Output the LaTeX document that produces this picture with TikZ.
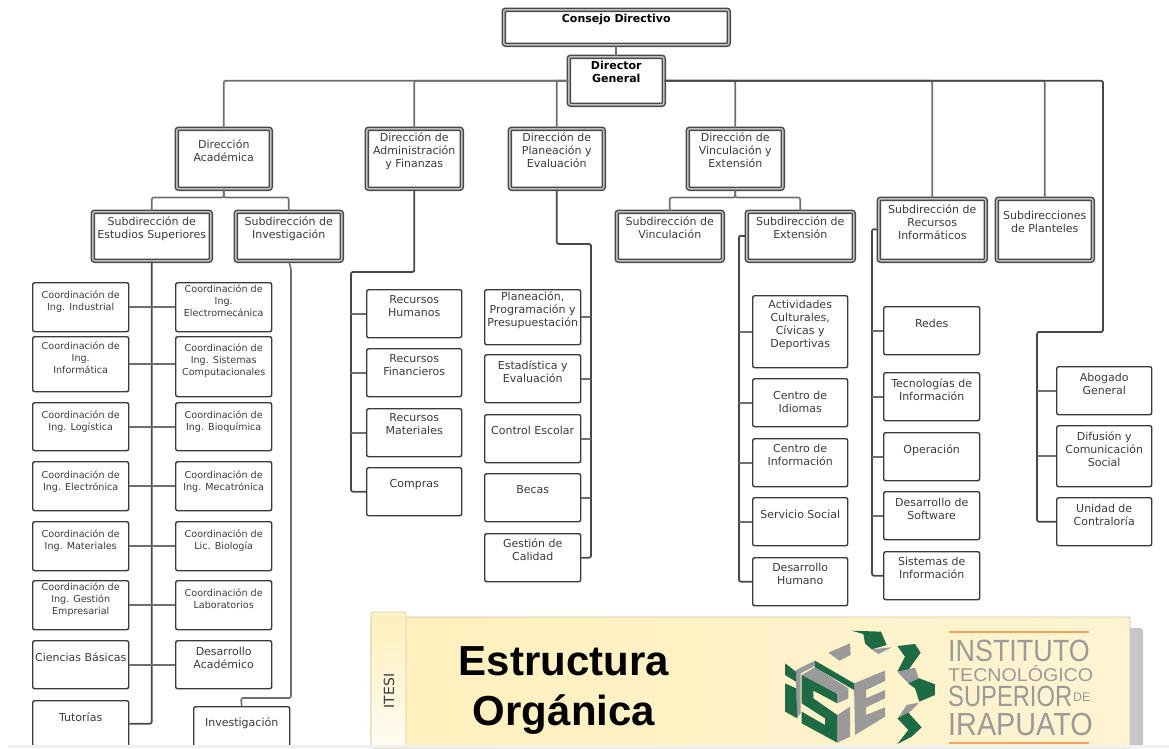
\documentclass[tikz,border=0pt]{standalone}
\usepackage{fontspec}
\setmainfont{DejaVu Sans}
\newfontfamily\titlefont{Liberation Sans}
\usepackage{tikz}
\definecolor{inkgray}{HTML}{3A3A3A}
\definecolor{linegray}{HTML}{6E6E6E}
\definecolor{railgray}{HTML}{484848}
\definecolor{logogreen}{HTML}{1C6B45}
\definecolor{logogray}{HTML}{9A9A9A}
\definecolor{logoorange}{HTML}{F5A45E}
\definecolor{bannerleft}{HTML}{FFF0BC}
\definecolor{bannerright}{HTML}{FFF4D2}
\tikzset{
  block/.style n args={3}{rectangle, anchor=north west, inner sep=0pt, text=inkgray,
    draw=inkgray, line width=1.4pt, rounded corners=2pt, font=\fontsize{11}{13}\selectfont,
    execute at begin node={\begin{minipage}[t][#2pt][t]{#1pt}\centering\vspace*{\dimexpr#3pt+1pt\relax}},
    execute at end node={\end{minipage}}},
  small/.style={font=\fontsize{9.6}{12}\selectfont},
  head/.style={draw=railgray, line width=1.5pt, double=black!25, double distance=1.5pt},
  boss/.style={head, text=black, font=\fontsize{11}{13}\selectfont\bfseries}
}
\tikzstyle{line} = [draw=linegray, line width=1.6pt, rounded corners=2pt]
\tikzstyle{rail} = [draw=railgray, line width=1.8pt, rounded corners=2pt]
\tikzstyle{brand} = [anchor=base west, inner sep=0pt, text=logogray]

\begin{document}
\begin{tikzpicture}[x=1pt, y=-1pt]
    \useasboundingbox (0,0) rectangle (1169,748);
    \node [block={225}{35}{3}, boss] (consejo) at (503,9) {Consejo Directivo};
    \node [block={95}{48}{3}, boss] (director) at (568,56) {Director\\General};

    \node [block={94}{60}{10}, head] (dacad) at (176,128) {Dirección\\Académica};
    \node [block={95}{60}{3}, head] (dadmin) at (366,128) {Dirección de\\Administración\\y Finanzas};
    \node [block={94}{60}{3}, head] (dplan) at (509,128) {Dirección de\\Planeación y\\Evaluación};
    \node [block={95}{60}{3}, head] (dvinc) at (687,128) {Dirección de\\Vinculación y\\Extensión};

    \node [block={118}{49}{4}, head] (subest) at (92,211) {Subdirección de\\Estudios Superiores};
    \node [block={106}{49}{4}, head] (subinv) at (235,211) {Subdirección de\\Investigación};
    \node [block={106}{49}{4}, head] (subvinc) at (616,211) {Subdirección de\\Vinculación};
    \node [block={107}{49}{4}, head] (subext) at (746,211) {Subdirección de\\Extensión};
    \node [block={107}{62}{5}, head] (subrec) at (878,198) {Subdirección de\\Recursos\\Informáticos};
    \node [block={96}{62}{11}, head] (subpla) at (996,198) {Subdirecciones\\de Planteles};

    \node [block={96}{49}{7}, small] (industrial) at (32,282) {Coordinación de\\Ing. Industrial};
    \node [block={96}{55}{4}, small] (informatica) at (32,336) {Coordinación de\\Ing.\\Informática};
    \node [block={96}{48}{7}, small] (logistica) at (32,402) {Coordinación de\\Ing. Logística};
    \node [block={96}{49}{8}, small] (electronica) at (32,461) {Coordinación de\\Ing. Electrónica};
    \node [block={96}{49}{7}, small] (materiales) at (32,521) {Coordinación de\\Ing. Materiales};
    \node [block={96}{49}{1}, small] (gestion) at (32,580) {Coordinación de\\Ing. Gestión\\Empresarial};
    \node [block={96}{48}{11}] (ciencias) at (32,640) {Ciencias Básicas};
    \node [block={96}{46}{11}] (tutorias) at (32,700) {Tutorías};

    \node [block={96}{49}{1}, small] (electromec) at (175,282) {Coordinación de\\Ing.\\Electromecánica};
    \node [block={96}{60}{6}, small] (sistcomp) at (175,336) {Coordinación de\\Ing. Sistemas\\Computacionales};
    \node [block={96}{48}{7}, small] (bioquimica) at (175,402) {Coordinación de\\Ing. Bioquímica};
    \node [block={96}{49}{8}, small] (mecatronica) at (175,461) {Coordinación de\\Ing. Mecatrónica};
    \node [block={96}{49}{7}, small] (biologia) at (175,521) {Coordinación de\\Lic. Biología};
    \node [block={96}{49}{7}, small] (laboratorios) at (175,580) {Coordinación de\\Laboratorios};
    \node [block={96}{48}{5}] (desacad) at (175,640) {Desarrollo\\Académico};
    \node [block={96}{40}{10}] (investigacion) at (193,706) {Investigación};

    \node [block={95}{48}{5}] (humanos) at (366,289) {Recursos\\Humanos};
    \node [block={95}{48}{5}] (financieros) at (366,348) {Recursos\\Financieros};
    \node [block={95}{48}{4}] (rmateriales) at (366,408) {Recursos\\Materiales};
    \node [block={95}{48}{11}] (compras) at (366,467) {Compras};

    \node [block={96}{55}{1}] (planeacion) at (484,289) {Planeación,\\Programación y\\Presupuestación};
    \node [block={96}{48}{5}] (estadistica) at (484,354) {Estadística y\\Evaluación};
    \node [block={96}{48}{10}] (escolar) at (484,414) {Control Escolar};
    \node [block={96}{48}{11}] (becas) at (484,473) {Becas};
    \node [block={96}{48}{4}] (calidad) at (484,533) {Gestión de\\Calidad};

    \node [block={95}{72}{3}] (actividades) at (752,295) {Actividades\\Culturales,\\Cívicas y\\Deportivas};
    \node [block={95}{48}{11}] (idiomas) at (752,378) {Centro de\\Idiomas};
    \node [block={95}{48}{4}] (cinfo) at (752,438) {Centro de\\Información};
    \node [block={95}{48}{11}] (social) at (752,497) {Servicio Social};
    \node [block={95}{48}{4}] (humano) at (752,557) {Desarrollo\\Humano};

    \node [block={96}{48}{11}] (redes) at (883,306) {Redes};
    \node [block={96}{48}{5}] (tecnologias) at (883,372) {Tecnologías de\\Información};
    \node [block={96}{48}{11}] (operacion) at (883,432) {Operación};
    \node [block={96}{48}{5}] (software) at (883,491) {Desarrollo de\\Software};
    \node [block={96}{48}{4}] (sinfo) at (883,551) {Sistemas de\\Información};

    \node [block={95}{48}{5}] (abogado) at (1056,366) {Abogado\\General};
    \node [block={95}{61}{5}] (difusion) at (1056,425) {Difusión y\\Comunicación\\Social};
    \node [block={95}{48}{5}] (unidad) at (1056,497) {Unidad de\\Contraloría};

    \coordinate (adminrail) at (351,272);
    \coordinate (planrail) at (591,244);
    \coordinate (extrail) at (739,235.5);
    \coordinate (recrail) at (872,229);
    \coordinate (staffjog) at (1103,332);
    \coordinate (staffrail) at (1037,332);
    \coordinate (invjog) at (291,268);
    \coordinate (invdrop) at (241,698);

    \path [line] (consejo.south) -- (director.north -| consejo.south);
    \foreach \n in {dacad,dadmin,dplan}
        \path [line] (director.west) -| (\n.north);
    \foreach \n in {dvinc,subrec,subpla}
        \path [line] (director.east) -| (\n.north);
    \path [rail] (director.east) -| (staffjog) -- (staffrail) |- (unidad.west);
    \foreach \n in {abogado,difusion}
        \path [line] (\n.west) -- (\n.west -| staffrail);

    \foreach \n in {subest,subinv}
        \path [line] (dacad.south) -- ++(0,8) -| (\n.north);
    \foreach \n in {subvinc,subext}
        \path [line] (dvinc.south) -- ++(0,8) -| (\n.north);

    \path [rail] (subest.south) |- (tutorias.east);
    \foreach \a/\b in {industrial/electromec,informatica/sistcomp,logistica/bioquimica,electronica/mecatronica,materiales/biologia,gestion/laboratorios,ciencias/desacad}
        \path [line] (\a.east) -- (\a.east -| \b.west);
    \path [line] (subinv.south) -- (invjog) |- (invdrop) -- (investigacion.north);

    \path [rail] (dadmin.south) |- (adminrail) |- (compras.west);
    \foreach \n in {humanos,financieros,rmateriales}
        \path [line] (\n.west) -- (\n.west -| adminrail);

    \path [rail] (dplan.south) |- (planrail) |- (calidad.east);
    \foreach \n in {planeacion,estadistica,escolar,becas}
        \path [line] (\n.east) -- (\n.east -| planrail);

    \path [rail] (subext.west) -- (extrail) |- (humano.west);
    \foreach \n in {actividades,idiomas,cinfo,social}
        \path [line] (\n.west) -- (\n.west -| extrail);

    \path [rail] (subrec.west) -- (recrail) |- (sinfo.west);
    \foreach \n in {redes,tecnologias,operacion,software}
        \path [line] (\n.west) -- (\n.west -| recrail);

    \fill [black!22, rounded corners=3pt] (1120,628) rectangle (1143,748);
    \shade [left color=bannerleft, right color=bannerright, draw=yellow!50!black!50, line width=.8pt,
        rounded corners=2pt] (371,617) rectangle (1130,748);
    \shade [top color=bannerleft, bottom color=white, draw=yellow!50!black!50, line width=.8pt,
        rounded corners=2pt, opacity=.8] (371,612) rectangle (406,748);
    \node [rotate=90, text=inkgray, font=\fontsize{14}{14}\selectfont] (itesi) at (389,691) {ITESI};
    \node [anchor=base, font=\fontsize{42}{42}\selectfont\titlefont\bfseries] (estructura) at (564,675) {Estructura};
    \node [anchor=base, font=\fontsize{42}{42}\selectfont\titlefont\bfseries] (organica) at (564,725) {Orgánica};

    \begin{scope}[shift={(780,620)}, x=.3333pt, y=-.3333pt]
        \fill [logogreen] (215,32) -- (303,35) -- (320,75) -- (275,88) -- (255,70) -- (250,42) -- cycle;
        \fill [logogray] (275,88) -- (335,82) -- (295,102) -- cycle;
        \fill [logogray] (145,98) -- (210,70) -- (212,105) -- (178,122) -- cycle;
        \fill [logogreen] (352,78) -- (405,72) -- (422,98) -- (385,150) -- (352,155) -- (375,110) -- cycle;
        \fill [logogray] (352,155) -- (405,143) -- (418,180) -- (385,190) -- cycle;
        \fill [logogreen] (385,190) -- (418,175) -- (465,193) -- (465,225) -- (418,245) -- (405,205) -- cycle;
        \fill [logogray] (355,292) -- (380,255) -- (418,248) -- (385,280) -- cycle;
        \fill [logogreen] (352,295) -- (385,278) -- (425,322) -- (395,350) -- (352,372) -- (385,330) -- cycle;
        \fill [logogray] (222,190) -- (315,152) -- (315,183) -- (258,210) -- (258,235) -- (315,210) -- (315,235)
            -- (258,262) -- (258,285) -- (315,262) -- (315,290) -- (225,345) -- cycle;
        \fill [logogray] (48,150) -- (105,122) -- (110,135) -- (62,160) -- (62,280) -- (48,295) -- cycle;
        \fill [logogray] (65,165) -- (105,142) -- (205,205) -- (172,222) -- cycle;
        \fill [logogray] (172,222) -- (205,205) -- (205,235) -- (172,250) -- cycle;
        \fill [logogray] (172,285) -- (210,260) -- (210,350) -- (172,368) -- cycle;
        \fill [logogreen] (15,130) -- (48,155) -- (48,185) -- (15,165) -- cycle;
        \fill [logogreen] (15,190) -- (48,205) -- (52,295) -- (15,275) -- cycle;
        \fill [logogreen] (105,122) -- (222,190) -- (222,210) -- (105,142) -- cycle;
        \fill [logogreen] (65,165) -- (172,222) -- (172,250) -- (100,212) -- (100,235) -- (172,285)
            -- (172,368) -- (65,310) -- (65,275) -- (135,315) -- (135,295) -- (65,250) -- cycle;
    \end{scope}

    \draw [logoorange, line width=2pt] (949,632) -- (1089,632);
    \node [brand, font=\fontsize{30.7}{30}\selectfont\titlefont] (instituto) at (948,661) {\scalebox{.876}[1]{INSTITUTO}};
    \node [brand, font=\fontsize{18.5}{20}\selectfont\titlefont] (tecnologico) at (948,681) {\scalebox{1.06}[1]{TECNOLÓGICO}};
    \node [brand, font=\fontsize{29.3}{30}\selectfont\titlefont] (superior) at (948,706) {\scalebox{.81}[1]{SUPERIOR}};
    \node [brand, font=\fontsize{12.5}{13}\selectfont\titlefont] (de) at (1073,701) {DE};
    \node [brand, font=\fontsize{32}{32}\selectfont\titlefont] (irapuato) at (948,735) {\scalebox{.9}[1]{IRAPUATO}};
    \draw [logoorange, line width=2pt] (949,743) -- (1089,743);

    \fill [black!6] (8,745) rectangle (1169,748);
\end{tikzpicture}
\end{document}
